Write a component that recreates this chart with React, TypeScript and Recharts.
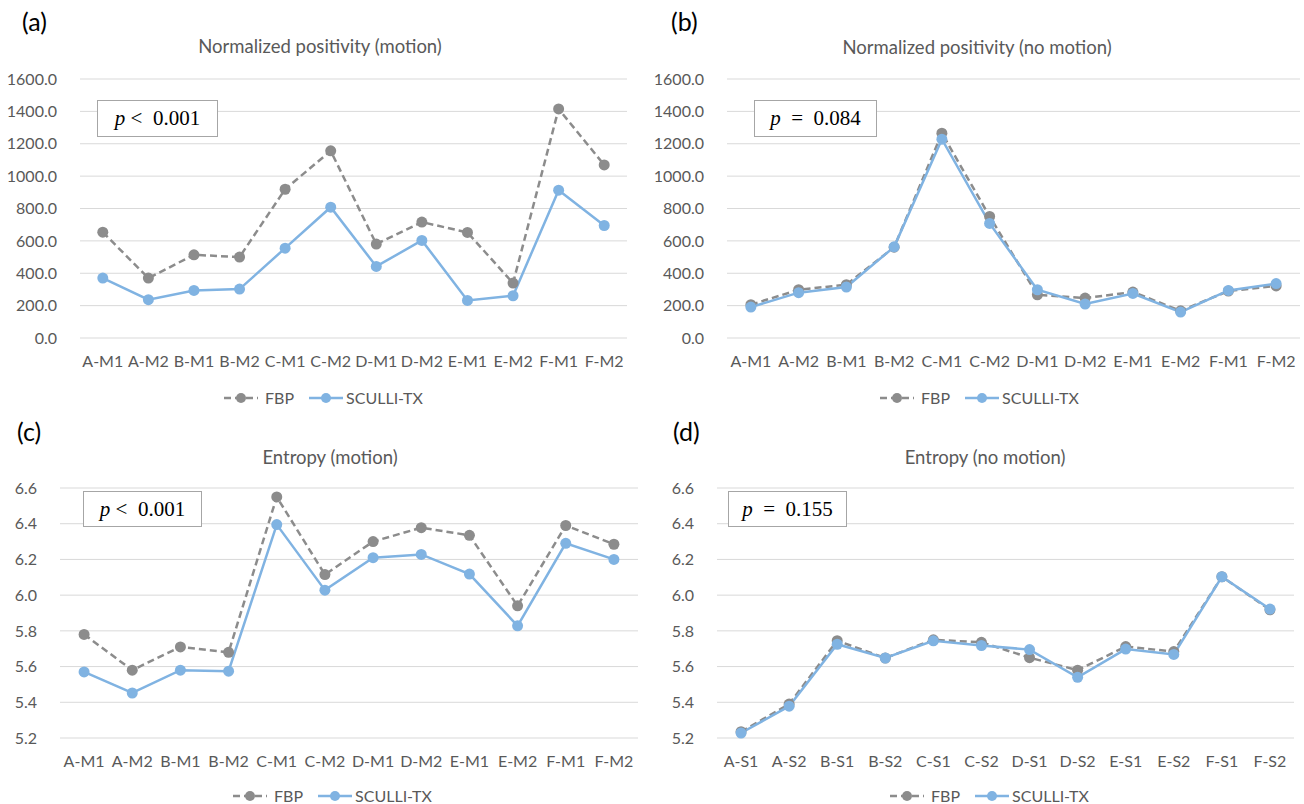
import { LineChart, Line, XAxis, YAxis, CartesianGrid } from 'recharts';

const motionCats = ['A-M1', 'A-M2', 'B-M1', 'B-M2', 'C-M1', 'C-M2', 'D-M1', 'D-M2', 'E-M1', 'E-M2', 'F-M1', 'F-M2'];
const stillCats = ['A-S1', 'A-S2', 'B-S1', 'B-S2', 'C-S1', 'C-S2', 'D-S1', 'D-S2', 'E-S1', 'E-S2', 'F-S1', 'F-S2'];

// normalized positivity
const posMotionFbp = [654, 370, 514, 500, 919, 1156, 580, 716, 652, 339, 1415, 1069];
const posMotionSculli = [370, 237, 294, 302, 555, 808, 442, 603, 232, 261, 913, 695];
const posStillFbp = [206, 298, 329, 561, 1265, 751, 267, 247, 284, 168, 290, 322];
const posStillSculli = [191, 280, 315, 563, 1228, 708, 298, 210, 275, 160, 294, 336];

// entropy
const entMotionFbp = [5.78, 5.58, 5.71, 5.68, 6.55, 6.115, 6.3, 6.378, 6.335, 5.94, 6.39, 6.285];
const entMotionSculli = [5.57, 5.452, 5.58, 5.574, 6.395, 6.028, 6.21, 6.228, 6.118, 5.828, 6.29, 6.2];
const entStillFbp = [5.235, 5.39, 5.745, 5.648, 5.75, 5.736, 5.65, 5.58, 5.712, 5.684, 6.103, 5.918];
const entStillSculli = [5.228, 5.378, 5.725, 5.648, 5.744, 5.718, 5.695, 5.54, 5.698, 5.668, 6.103, 5.922];

const posTicks = [0, 200, 400, 600, 800, 1000, 1200, 1400, 1600];
const entTicks = [5.2, 5.4, 5.6, 5.8, 6.0, 6.2, 6.4, 6.6];

const FBP_COLOR = '#8c8c8c';
const SCULLI_COLOR = '#80b3e2';
const TEXT = '#595959';
const FONT = 'Lato, "Open Sans", sans-serif';

const Y_AXIS_W = 40;
const X_AXIS_H = 30;

interface PanelProps {
  box: { x: number; y: number; w: number; h: number };
  plot: { x0: number; x1: number; y0: number; y1: number };
  cats: string[];
  fbp: number[];
  sculli: number[];
  ticks: number[];
  letter: string;
  letterX: number;
  title: string;
  titleX: number;
  titleY: number;
  op: string;
  pval: string;
  pBox: { x: number; y: number; w: number; h: number };
  legendX: number;
  legendY: number;
}

function LegendIcon({ dashed, color }: { dashed: boolean; color: string }) {
  return (
    <svg width={36} height={12} style={{ display: 'block' }}>
      <line x1={1} y1={6} x2={35} y2={6} stroke={color} strokeWidth={2.5} strokeDasharray={dashed ? '7 4' : undefined} />
      <circle cx={18} cy={6} r={5} fill={color} />
    </svg>
  );
}

function Panel(p: PanelProps) {
  const data = p.cats.map((c, i) => ({ cat: c, fbp: p.fbp[i], sculli: p.sculli[i] }));
  const pad = (p.plot.x1 - p.plot.x0) / 24;
  const margin = {
    top: p.plot.y0 - p.box.y,
    bottom: p.box.y + p.box.h - p.plot.y1 - X_AXIS_H,
    left: p.plot.x0 - p.box.x - Y_AXIS_W,
    right: p.box.x + p.box.w - p.plot.x1,
  };
  const dom: [number, number] = [p.ticks[0], p.ticks[p.ticks.length - 1]];

  return (
    <>
      <div style={{ position: 'absolute', left: p.box.x, top: p.box.y }}>
        <LineChart width={p.box.w} height={p.box.h} data={data} margin={margin}>
          <CartesianGrid vertical={false} stroke="#d9d9d9" strokeWidth={1} />
          <XAxis
            dataKey="cat"
            interval={0}
            height={X_AXIS_H}
            axisLine={false}
            tickLine={false}
            tickMargin={12}
            padding={{ left: pad, right: pad }}
            tick={{ fill: TEXT, fontSize: 16 }}
          />
          <YAxis
            width={Y_AXIS_W}
            domain={dom}
            ticks={p.ticks}
            interval={0}
            axisLine={false}
            tickLine={false}
            tickMargin={17}
            tickFormatter={(v: number) => v.toFixed(1)}
            tick={{ fill: TEXT, fontSize: 16 }}
          />
          <Line
            type="linear"
            dataKey="fbp"
            stroke={FBP_COLOR}
            strokeWidth={2.5}
            strokeDasharray="7 4"
            dot={{ r: 5.5, fill: FBP_COLOR, stroke: 'none', strokeDasharray: 'none' }}
            isAnimationActive={false}
          />
          <Line
            type="linear"
            dataKey="sculli"
            stroke={SCULLI_COLOR}
            strokeWidth={2.5}
            dot={{ r: 5.5, fill: SCULLI_COLOR, stroke: 'none' }}
            isAnimationActive={false}
          />
        </LineChart>
      </div>

      <div style={{ position: 'absolute', left: p.letterX, top: p.box.y + 6, fontSize: 25, color: '#000', lineHeight: '30px' }}>
        {p.letter}
      </div>

      <div
        style={{
          position: 'absolute',
          left: p.titleX - 200,
          width: 400,
          top: p.titleY - 11,
          textAlign: 'center',
          fontSize: 18.5,
          color: TEXT,
          lineHeight: '22px',
        }}
      >
        {p.title}
      </div>

      <div
        style={{
          position: 'absolute',
          left: p.pBox.x,
          top: p.pBox.y,
          width: p.pBox.w,
          height: p.pBox.h,
          boxSizing: 'border-box',
          border: '1px solid #a6a6a6',
          background: '#fff',
          display: 'flex',
          alignItems: 'center',
          justifyContent: 'center',
          fontFamily: '"Liberation Serif", "DejaVu Serif", serif',
          fontSize: 21,
          color: '#000',
          whiteSpace: 'pre',
        }}
      >
        <span style={{ fontStyle: 'italic' }}>p</span>
        <span>{p.op === '<' ? ' <  ' : '  =  '}</span>
        <span>{p.pval}</span>
      </div>

      <div
        style={{
          position: 'absolute',
          left: p.legendX - 150,
          width: 300,
          top: p.legendY - 7,
          height: 14,
          lineHeight: '14px',
          display: 'flex',
          alignItems: 'center',
          justifyContent: 'center',
          fontSize: 16,
          color: TEXT,
        }}
      >
        <LegendIcon dashed color={FBP_COLOR} />
        <span style={{ marginLeft: 6, marginRight: 14 }}>FBP</span>
        <LegendIcon dashed={false} color={SCULLI_COLOR} />
        <span style={{ marginLeft: 2 }}>SCULLI-TX</span>
      </div>
    </>
  );
}

export default function App() {
  return (
    <div style={{ position: 'absolute', left: 0, top: 0, width: 1304, height: 804, background: '#fff', fontFamily: FONT, overflow: 'hidden' }}>
      <Panel
        box={{ x: 0, y: 0, w: 650, h: 420 }}
        plot={{ x0: 80, x1: 627, y0: 79, y1: 338 }}
        cats={motionCats}
        fbp={posMotionFbp}
        sculli={posMotionSculli}
        ticks={posTicks}
        letter="(a)"
        letterX={22}
        title="Normalized positivity (motion)"
        titleX={320}
        titleY={46}
        op="<"
        pval="0.001"
        pBox={{ x: 97, y: 100, w: 121, h: 37 }}
        legendX={323}
        legendY={398}
      />
      <Panel
        box={{ x: 650, y: 0, w: 654, h: 420 }}
        plot={{ x0: 727, x1: 1300, y0: 79, y1: 338 }}
        cats={motionCats}
        fbp={posStillFbp}
        sculli={posStillSculli}
        ticks={posTicks}
        letter="(b)"
        letterX={671}
        title="Normalized positivity (no motion)"
        titleX={977}
        titleY={47}
        op="="
        pval="0.084"
        pBox={{ x: 754, y: 100, w: 123, h: 37 }}
        legendX={979}
        legendY={398}
      />
      <Panel
        box={{ x: 0, y: 410, w: 650, h: 394 }}
        plot={{ x0: 60, x1: 638, y0: 488, y1: 738 }}
        cats={motionCats}
        fbp={entMotionFbp}
        sculli={entMotionSculli}
        ticks={entTicks}
        letter="(c)"
        letterX={17}
        title="Entropy (motion)"
        titleX={330}
        titleY={457}
        op="<"
        pval="0.001"
        pBox={{ x: 83, y: 491, w: 119, h: 36 }}
        legendX={332}
        legendY={796}
      />
      <Panel
        box={{ x: 650, y: 410, w: 654, h: 394 }}
        plot={{ x0: 717, x1: 1294, y0: 488, y1: 738 }}
        cats={stillCats}
        fbp={entStillFbp}
        sculli={entStillSculli}
        ticks={entTicks}
        letter="(d)"
        letterX={673}
        title="Entropy (no motion)"
        titleX={985}
        titleY={457}
        op="="
        pval="0.155"
        pBox={{ x: 728, y: 491, w: 119, h: 36 }}
        legendX={989}
        legendY={796}
      />
    </div>
  );
}
